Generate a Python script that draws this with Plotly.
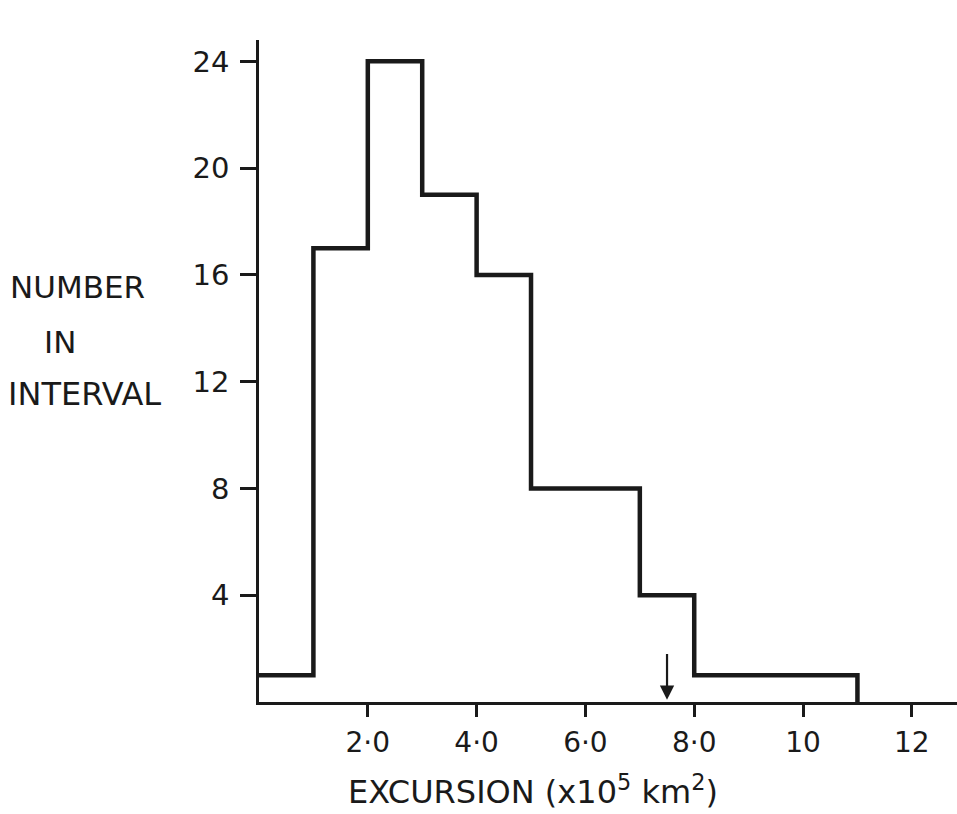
import plotly.graph_objects as go

# Data
bin_edges = [0, 1, 2, 3, 4, 5, 7, 8, 11]
counts = [1, 17, 24, 19, 16, 8, 4, 1]
arrow_x = 7.5
xtick_vals = [2, 4, 6, 8, 10, 12]
xtick_text = ["2·0", "4·0", "6·0", "8·0", "10", "12"]
ytick_vals = [4, 8, 12, 16, 20, 24]
ytick_text = ["4", "8", "12", "16", "20", "24"]

ink = "#1a1a1a"
font_family = "DejaVu Sans"

# step outline built from the bins
xs = bin_edges[:-1] + [bin_edges[-1], bin_edges[-1]]
ys = counts + [counts[-1], 0]

fig = go.Figure()
fig.add_trace(go.Scatter(
    x=xs, y=ys, mode="lines", line=dict(color=ink, width=4.5, shape="hv"),
    hoverinfo="skip", showlegend=False,
))

W, H = 957, 814
L, R, T, B = 259, 0, 40, 112
pw = W - L - R
ph = H - T - B

def px(xp):
    return (xp - L) / pw

def py(yp):
    return (H - B - yp) / ph

fig.update_layout(
    width=W, height=H,
    margin=dict(l=L, r=R, t=T, b=B),
    paper_bgcolor="white", plot_bgcolor="white",
    font=dict(family=font_family, color=ink),
    xaxis=dict(
        range=[0, 12.83], showgrid=False, zeroline=False,
        showline=True, linecolor=ink, linewidth=2.5,
        ticks="outside", ticklen=12, tickwidth=2.5, tickcolor=ink,
        tickvals=xtick_vals, ticktext=xtick_text,
        tickfont=dict(size=28, family=font_family, color=ink),
        ticklabelstandoff=2,
    ),
    yaxis=dict(
        range=[0, 24.8], showgrid=False, zeroline=False,
        showline=True, linecolor=ink, linewidth=2.5,
        ticks="outside", ticklen=16, tickwidth=2.5, tickcolor=ink,
        tickvals=ytick_vals, ticktext=ytick_text,
        tickfont=dict(size=29, family=font_family, color=ink),
        ticklabelstandoff=5,
    ),
    annotations=[
        dict(x=arrow_x, y=0.08, ax=arrow_x, ay=1.85, xref="x", yref="y",
             axref="x", ayref="y", showarrow=True, arrowhead=2,
             arrowsize=1.3, arrowwidth=2.2, arrowcolor=ink, text=""),
        dict(text="EXCURSION (x10<sup>5</sup> km<sup>2</sup>)", xref="paper", yref="paper",
             x=px(533), y=py(790), xanchor="center", yanchor="middle",
             showarrow=False, font=dict(size=32, family=font_family, color=ink)),
        dict(text="NUMBER", xref="paper", yref="paper", x=px(8), y=py(287),
             xanchor="left", yanchor="middle", showarrow=False,
             font=dict(size=31, family=font_family, color=ink)),
        dict(text="IN", xref="paper", yref="paper", x=px(42), y=py(342),
             xanchor="left", yanchor="middle", showarrow=False,
             font=dict(size=31, family=font_family, color=ink)),
        dict(text="INTERVAL", xref="paper", yref="paper", x=px(6), y=py(394),
             xanchor="left", yanchor="middle", showarrow=False,
             font=dict(size=32, family=font_family, color=ink)),
    ],
)

fig.write_html("out.html")
